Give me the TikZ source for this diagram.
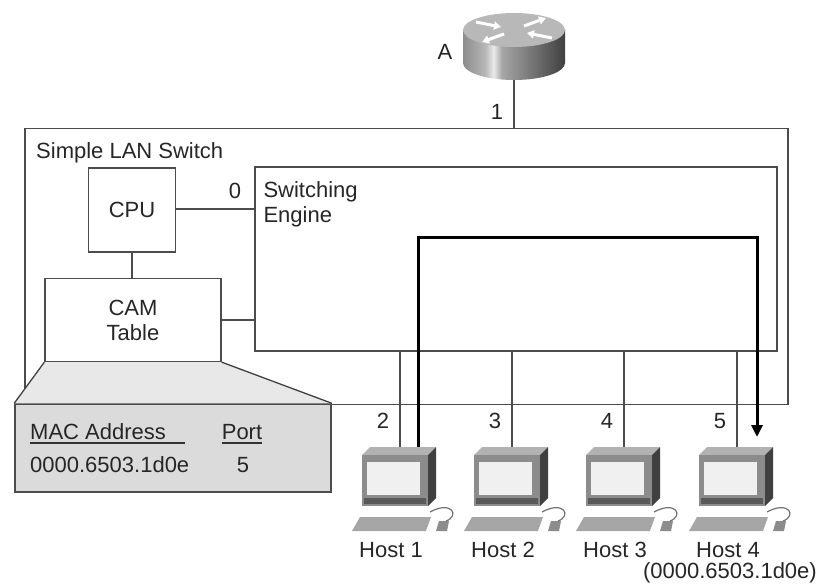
\documentclass[tikz,border=0pt]{standalone}
\usepackage{fontspec}
\setmainfont{Liberation Sans}
\usetikzlibrary{arrows.meta}
% 路由器侧面的明暗
\pgfdeclarehorizontalshading{routerside}{100bp}{color(0bp)=(black!45); color(25bp)=(black!45);
  color(36bp)=(black!28); color(40bp)=(black!8); color(44bp)=(black!35);
  color(75bp)=(black!75); color(100bp)=(black!75)}

\begin{document}
\begin{tikzpicture}[x=1pt, y=-1pt,
  txt/.style={font=\fontsize{22}{25}\selectfont, text=black!85, inner sep=0pt},
  wire/.style={black!70, line width=1.3pt},
  box/.style={draw=black!70, line width=1.3pt, fill=white, inner sep=0pt},
  rarr/.style={white, line width=3pt, -{Triangle[length=7pt,width=8pt]}},
  flow/.style={black, line width=3pt, -{Triangle[length=12pt,width=11pt]}}]
  \useasboundingbox (0,0) rectangle (819,586);

  % 交换机外框
  \node[box, fill=none, minimum width=763, minimum height=276] (sw) at (406.5,266.5) {};
  \node[txt, anchor=west] (swname) at (36,153) {Simple LAN Switch};

  % 路由器 A
  \shade[shading=routerside] (463,30) rectangle (565,63);
  \shade[shading=routerside] (514,63) ellipse [x radius=51, y radius=17];
  \fill[black!28] (514,30) ellipse [x radius=51, y radius=17];
  \draw[rarr] (476,22) -- (501,27);
  \draw[rarr] (552,38) -- (527,33);
  \draw[rarr] (524,26) -- (546,18);
  \draw[rarr] (504,34) -- (482,42);
  \coordinate (ra) at (514,80);
  \node[txt] (rname) at (445,52) {A};
  \draw[wire] (ra) -- (ra |- sw.north);
  \node[txt] at (497,112) {1};

  % CPU、CAM 表、交换引擎
  \node[box, minimum width=87, minimum height=84] (cpu) at (132,210) {};
  \node[txt] at (cpu.center) {CPU};
  \node[box, minimum width=176, minimum height=83] (cam) at (133,320) {};
  \node[txt, align=center] at (cam.center) {CAM\\Table};
  \node[box, minimum width=522, minimum height=184] (se) at (516,259) {};
  \node[txt, anchor=north west, align=left] at ([shift={(9,15)}]se.north west) {Switching\\Engine};

  \draw[wire] (cpu.east |- 0,209) -- (se.west |- 0,209);
  \node[txt] at (235,191) {0};
  \draw[wire] (cpu.south) -- (cpu.south |- cam.north);
  \draw[wire] (cam.east) -- (cam.east -| se.west);

  % CAM 表内容
  \node[draw=black!70, line width=1.5pt, fill=black!14, minimum width=316, minimum height=88] (tab) at (173,448) {};
  \fill[black!9] (cam.south west) -- (cam.south east) -- (tab.north east) -- (tab.north west) -- cycle;
  \draw[black!75, line width=1.3pt] (cam.south west) -- (tab.north west);
  \draw[black!75, line width=1.3pt] (cam.south east) -- (tab.north east);
  \node[txt, anchor=west] (mac) at (30,432) {MAC Address};
  \draw[black!80, line width=1.3pt] (30,443) -- (185,443);
  \node[txt] (port) at (242,432) {Port};
  \draw[black!80, line width=1.3pt] (222,443) -- (262,443);
  \node[txt, anchor=west] (addr) at (30,465) {0000.6503.1d0e};
  \node[txt] (pnum) at (243,465) {5};

  % 主机与端口
  \foreach \n/\x/\p in {1/400/2, 2/512/3, 3/624/4, 4/737/5}{
    \fill[black!30] (\x-38,455) -- (\x-30,447) -- (\x+36,447) -- (\x+28,455) -- cycle;
    \fill[black!75] (\x+28,455) -- (\x+36,447) -- (\x+36,498) -- (\x+28,506) -- cycle;
    \fill[black!45] (\x-38,455) rectangle (\x+28,506);
    \fill[black!6] (\x-33,462) rectangle (\x+20,495);
    \fill[black!65] (\x-36,498) rectangle (\x+26,504);
    \fill[black!35] (\x-48,531) -- (\x-40,517) -- (\x+31,517) -- (\x+26,531) -- cycle;
    \draw[black!55, line width=1.2pt] (\x+30,512) .. controls (\x+52,500) and (\x+60,516) .. (\x+46,521);
    \fill[black!45] (\x+36,531) -- (\x+39,521) -- (\x+49,521) -- (\x+47,531) -- cycle;
    \coordinate (p\n) at (\x,447);
    \draw[wire] (se.south -| p\n) -- (p\n);
    \node[txt] (pl\n) at (\x-17,421) {\p};
    \node[txt] (h\n) at (\x-9,550) {Host \n};
  }
  \node[txt, anchor=east] (mac4) at (817,573) {(0000.6503.1d0e)};

  % 帧从主机 1 转发到主机 4
  \coordinate (in1) at (418,447);
  \coordinate (tr) at (757,237);
  \coordinate (out4) at (757,437);
  \draw[flow] (in1) |- (tr) -- (out4);
\end{tikzpicture}
\end{document}
